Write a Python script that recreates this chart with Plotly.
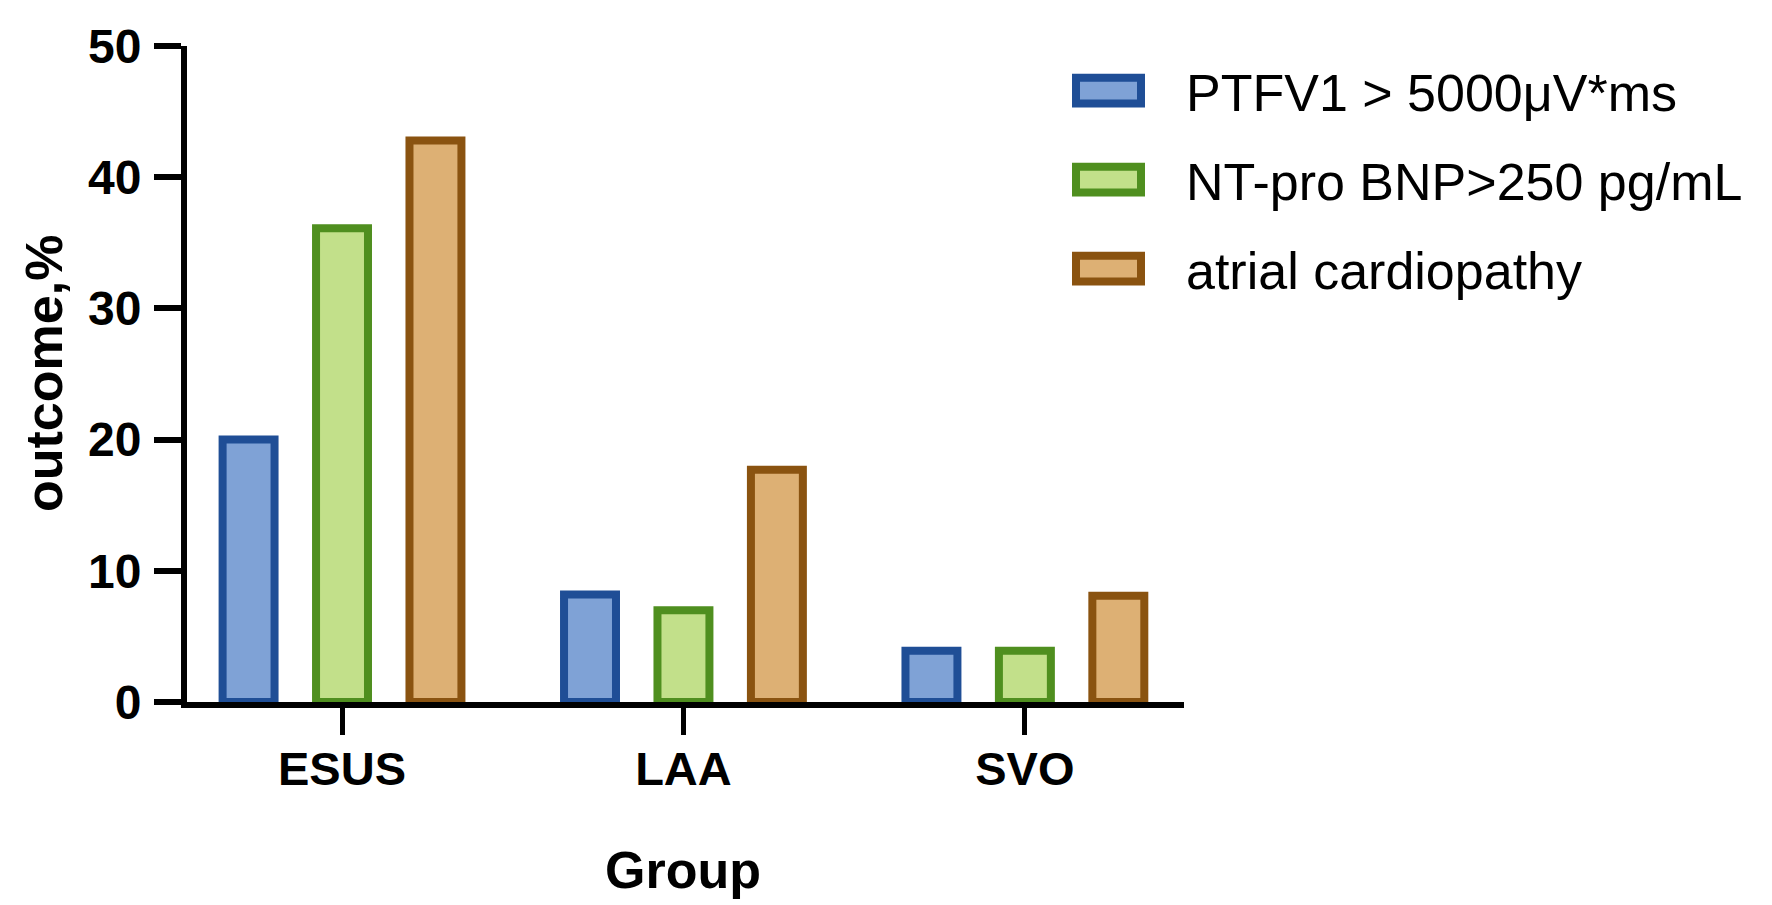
import plotly.graph_objects as go

groups = ["ESUS", "LAA", "SVO"]
series_names = ["PTFV1 > 5000μV*ms", "NT-pro BNP>250 pg/mL", "atrial cardiopathy"]
ptfv1 = [20.0, 8.2, 3.9]
nt_pro_bnp = [36.1, 7.0, 3.9]
atrial_cardiopathy = [42.8, 17.7, 8.1]
y_ticks = [0, 10, 20, 30, 40, 50]

fills = ["#7fa2d6", "#c2e08a", "#ddb074"]
borders = ["#1f4e96", "#4f8f1f", "#8a5310"]

W, H = 1772, 905
L, R, T, B = 179, 1176, 31, 694
FONT = "Liberation Sans, Arial, sans-serif"


def px_x(px):
    return (px - L) / (R - L)


def px_y(py):
    return (B - py) / (B - T)


fig = go.Figure()
for name, vals, fc, lc in zip(series_names, [ptfv1, nt_pro_bnp, atrial_cardiopathy], fills, borders):
    fig.add_trace(go.Bar(x=groups, y=vals, name=name,
                         marker=dict(color=fc, line=dict(color=lc, width=8))))

# hand made legend, plotly's own swatches are far too small
for i, (name, fc, lc) in enumerate(zip(series_names, fills, borders)):
    cy = 76 + i * 90
    fig.add_shape(type="rect", xref="paper", yref="paper",
                  x0=px_x(1068), x1=px_x(1133), y0=px_y(cy + 13), y1=px_y(cy - 13),
                  fillcolor=fc, line=dict(color=lc, width=8))
    fig.add_annotation(text=name, xref="paper", yref="paper", x=px_x(1176), y=px_y(cy + 2),
                       xanchor="left", yanchor="middle", showarrow=False,
                       font=dict(family=FONT, size=52, color="black"))

fig.add_annotation(text="<b>outcome,%</b>", xref="paper", yref="paper", x=px_x(36), y=0.5,
                   xanchor="center", yanchor="middle", textangle=-90, showarrow=False,
                   font=dict(family=FONT, size=52, color="black"))
fig.add_annotation(text="<b>Group</b>", xref="paper", yref="paper", x=px_x(675), y=px_y(864),
                   xanchor="center", yanchor="middle", showarrow=False,
                   font=dict(family=FONT, size=52, color="black"))

fig.update_layout(
    width=W, height=H,
    margin=dict(l=L, r=W - R, t=T, b=H - B),
    paper_bgcolor="white", plot_bgcolor="white",
    barmode="group", bargap=0.179, bargroupgap=0.444,
    showlegend=False,
    font=dict(family=FONT, color="black"),
)
fig.update_xaxes(range=[-0.454, 2.466], showline=True, linecolor="black", linewidth=6,
                 ticks="outside", ticklen=27, tickwidth=5, tickcolor="black",
                 tickfont=dict(family=FONT, size=47, color="black", weight="bold"),
                 ticklabelstandoff=-6, showgrid=False, zeroline=False)
fig.update_yaxes(range=[0, 50], tickvals=y_ticks, showline=True, linecolor="black", linewidth=6,
                 ticks="outside", ticklen=27, tickwidth=6, tickcolor="black",
                 tickfont=dict(family=FONT, size=48, color="black", weight="bold"),
                 ticklabelstandoff=3, showgrid=False, zeroline=False)

fig.write_html("out.html")
